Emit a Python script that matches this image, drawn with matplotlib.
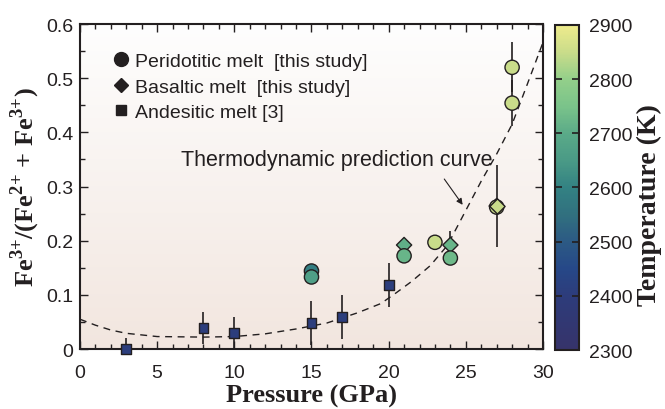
import matplotlib
matplotlib.use("Agg")
import matplotlib.pyplot as plt
import numpy as np
from matplotlib.colors import LinearSegmentedColormap, Normalize
from matplotlib.lines import Line2D
from matplotlib.ticker import MultipleLocator

plt.rcParams["font.family"] = ["Liberation Sans", "DejaVu Sans"]
plt.rcParams["mathtext.fontset"] = "custom"
plt.rcParams["mathtext.rm"] = "Liberation Serif:bold"
plt.rcParams["mathtext.bf"] = "Liberation Serif:bold"

INK = "#231f20"

# andesitic melt [3]
and_p = [3, 8, 10, 15, 17, 20]
and_v = [0.0, 0.039, 0.030, 0.048, 0.059, 0.118]
and_err = [0.02, 0.03, 0.03, 0.04, 0.04, 0.04]
and_t = [2410, 2410, 2410, 2410, 2410, 2410]

# peridotitic melt
per_p = [15, 15, 21, 23, 24, 27, 28, 28]
per_v = [0.144, 0.133, 0.172, 0.197, 0.168, 0.262, 0.520, 0.454]
per_err = [0, 0, 0, 0, 0, 0, 0.046, 0.042]
per_t = [2590, 2665, 2720, 2850, 2730, 2850, 2850, 2850]

# basaltic melt
bas_p = [21, 24, 27]
bas_v = [0.192, 0.192, 0.264]
bas_err = [0, 0.025, 0.075]
bas_t = [2710, 2720, 2850]

# thermodynamic prediction curve
curve_p = [0, 1, 2, 3, 5, 8, 10, 12, 14, 16, 18, 19.5, 20.5, 21.5, 22.7,
           23.8, 24.8, 26, 27, 28, 29, 30]
curve_v = [0.055, 0.044, 0.035, 0.029, 0.023, 0.022, 0.023, 0.028, 0.037,
           0.048, 0.067, 0.084, 0.104, 0.125, 0.154, 0.191, 0.245, 0.31,
           0.36, 0.415, 0.49, 0.566]

cb_ticks = [2300, 2400, 2500, 2600, 2700, 2800, 2900]
cmap_t = [2300, 2400, 2450, 2500, 2550, 2600, 2650, 2700, 2750, 2800, 2850, 2900]
cmap_c = ["#36336a", "#2d3c7b", "#264888", "#2c5a84", "#31707f", "#338283",
          "#4a9a86", "#5aaa88", "#7ac38a", "#93cf8a", "#c9dc8a", "#eeeb8c"]

norm = Normalize(2300, 2900)
cmap = LinearSegmentedColormap.from_list(
    "temp", [((t - 2300) / 600, c) for t, c in zip(cmap_t, cmap_c)])

fig = plt.figure(figsize=(6.65, 4.10), dpi=100)
ax = fig.add_axes([0.1203, 0.1463, 0.6962, 0.7927])
cax = fig.add_axes([0.8346, 0.1439, 0.0361, 0.7927])

# soft background gradient
grad = np.linspace(0, 1, 256).reshape(-1, 1)
bg = LinearSegmentedColormap.from_list("bg", ["#f2e6df", "#fefefe"])
ax.imshow(grad, cmap=bg, aspect="auto", extent=[0, 1, 0, 1],
          transform=ax.transAxes, origin="lower", zorder=0)

ax.plot(curve_p, curve_v, ls=(0, (5, 4)), color=INK, lw=1.0, zorder=2)

ax.errorbar(and_p, and_v, yerr=and_err, fmt="none", ecolor=INK, elinewidth=1.2, zorder=3)
ax.errorbar(per_p, per_v, yerr=per_err, fmt="none", ecolor=INK, elinewidth=1.2, zorder=3)
ax.errorbar(bas_p, bas_v, yerr=bas_err, fmt="none", ecolor=INK, elinewidth=1.2, zorder=3)

ax.scatter(and_p, and_v, c=and_t, cmap=cmap, norm=norm, marker="s", s=50,
           edgecolors=INK, linewidths=1.0, zorder=4, clip_on=False)
ax.scatter(bas_p, bas_v, c=bas_t, cmap=cmap, norm=norm, marker="D", s=60,
           edgecolors=INK, linewidths=1.0, zorder=4)
ax.scatter(per_p, per_v, c=per_t, cmap=cmap, norm=norm, marker="o", s=105,
           edgecolors=INK, linewidths=1.0, zorder=5)
top = [i for i, p in enumerate(bas_p) if p > 26]
ax.scatter([bas_p[i] for i in top], [bas_v[i] for i in top],
           c=[bas_t[i] for i in top], cmap=cmap, norm=norm, marker="D", s=60,
           edgecolors=INK, linewidths=1.0, zorder=6)

ax.text(16.65, 0.349, "Thermodynamic prediction curve", fontsize=15.5,
        color=INK, ha="center", va="center")
ax.annotate("", xy=(24.9, 0.262), xytext=(23.5, 0.318),
            arrowprops=dict(arrowstyle="-|>", color=INK, lw=0.8, mutation_scale=9))

handles = [
    Line2D([], [], ls="none", marker="o", color=INK, markersize=10),
    Line2D([], [], ls="none", marker="D", color=INK, markersize=7.5),
    Line2D([], [], ls="none", marker="s", color=INK, markersize=6.5),
]
labels = ["Peridotitic melt  [this study]", "Basaltic melt  [this study]",
          "Andesitic melt [3]"]
leg = ax.legend(handles, labels, loc="upper left", bbox_to_anchor=(0.071, 0.912),
                frameon=False, fontsize=14, handlelength=0.8, borderpad=0,
                handletextpad=0.33, labelspacing=0.4, borderaxespad=0)
for t in leg.get_texts():
    t.set_color(INK)

ax.set_xlim(0, 30)
ax.set_ylim(0, 0.6)
ax.xaxis.set_major_locator(MultipleLocator(5))
ax.xaxis.set_minor_locator(MultipleLocator(1))
ax.yaxis.set_major_locator(MultipleLocator(0.1))
ax.yaxis.set_minor_locator(MultipleLocator(0.05))
ax.tick_params(which="both", direction="in", top=True, right=True,
               colors=INK, labelsize=14, width=1.0)
ax.tick_params(which="major", length=6)
ax.tick_params(which="minor", length=3.5)
ax.tick_params(axis="x", which="major", pad=11)
ax.tick_params(axis="y", which="major", pad=5)
ax.yaxis.set_major_formatter(plt.FuncFormatter(lambda v, _: "0" if v == 0 else f"{v:.1f}"))
for s in ax.spines.values():
    s.set_linewidth(1.5)
    s.set_color(INK)

ax.set_xlabel("Pressure (GPa)", family="Liberation Serif", weight="bold",
              fontsize=19, color=INK, labelpad=2)
ax.set_ylabel(r"Fe$^{3{+}}$/(Fe$^{2{+}}$ + Fe$^{3{+}}$)", family="Liberation Serif",
              weight="bold", fontsize=19, color=INK, labelpad=3)

cb = fig.colorbar(plt.cm.ScalarMappable(norm=norm, cmap=cmap), cax=cax)
cb.set_ticks(cb_ticks)
cb.outline.set_linewidth(1.5)
cb.outline.set_edgecolor(INK)
cax.tick_params(direction="in", left=True, right=True, length=5, width=1.2,
                colors=INK, labelsize=14, pad=7)
cb.set_label("Temperature (K)", family="Liberation Serif", weight="bold",
             fontsize=20, color=INK)
cax.yaxis.set_label_coords(3.4, 0.45)

fig.savefig("out.png", dpi=100)
